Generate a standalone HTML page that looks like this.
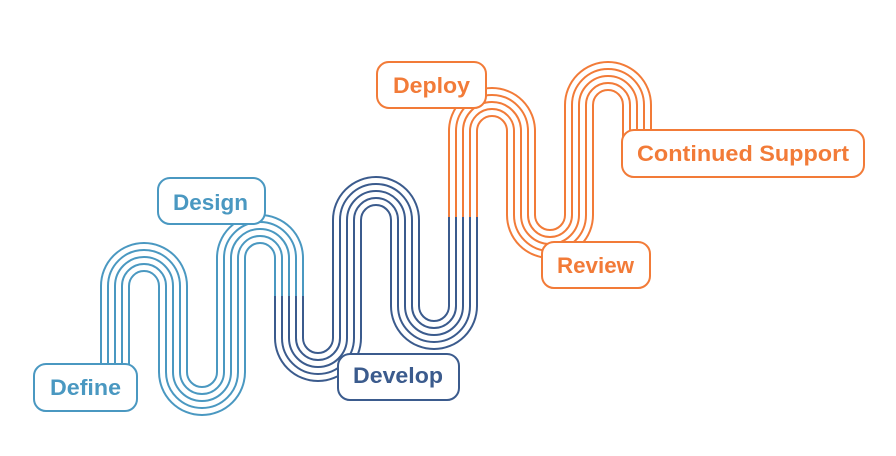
<!DOCTYPE html>
<html><head><meta charset="utf-8"><style>html,body{margin:0;padding:0;background:#fff}svg{display:block}</style></head>
<body>
<svg width="896" height="456" viewBox="0 0 896 456" xmlns="http://www.w3.org/2000/svg">
<defs>
<g id="lp"><path d="M115,365 V286 A29,29 0 0 1 173,286 V372 A29,29 0 0 0 231,372 V258 A29,29 0 0 1 289,258 V296"/></g>
<g id="dp"><path d="M289,296 V338 A29,29 0 0 0 347,338 V220 A29,29 0 0 1 405,220 V306 A29,29 0 0 0 463,306 V217"/></g>
<g id="op"><path d="M463,217 V131 A29,29 0 0 1 521,131 V215 A29,29 0 0 0 579,215 V105 A29,29 0 0 1 637,105 V150"/></g>
</defs>
<g fill="none" stroke-linecap="butt">
<g stroke="#4a98c1"><use href="#lp" stroke-width="30"/></g>
<g stroke="#fff"><use href="#lp" stroke-width="26"/></g>
<g stroke="#4a98c1"><use href="#lp" stroke-width="16"/></g>
<g stroke="#fff"><use href="#lp" stroke-width="12"/></g>
<g stroke="#4a98c1"><use href="#lp" stroke-width="2"/></g>

<g stroke="#3b5b8d"><use href="#dp" stroke-width="30"/></g>
<g stroke="#fff"><use href="#dp" stroke-width="26"/></g>
<g stroke="#3b5b8d"><use href="#dp" stroke-width="16"/></g>
<g stroke="#fff"><use href="#dp" stroke-width="12"/></g>
<g stroke="#3b5b8d"><use href="#dp" stroke-width="2"/></g>

<g stroke="#f27b38"><use href="#op" stroke-width="30"/></g>
<g stroke="#fff"><use href="#op" stroke-width="26"/></g>
<g stroke="#f27b38"><use href="#op" stroke-width="16"/></g>
<g stroke="#fff"><use href="#op" stroke-width="12"/></g>
<g stroke="#f27b38"><use href="#op" stroke-width="2"/></g>
</g>
<g fill="#fff" stroke-width="2">
<rect x="34" y="364" width="103" height="47" rx="12" stroke="#4a98c1"/>
<rect x="158" y="178" width="107" height="46" rx="12" stroke="#4a98c1"/>
<rect x="338" y="354" width="121" height="46" rx="12" stroke="#3b5b8d"/>
<rect x="377" y="62" width="109" height="46" rx="12" stroke="#f27b38"/>
<rect x="542" y="242" width="108" height="46" rx="12" stroke="#f27b38"/>
<rect x="622" y="130" width="242" height="47" rx="12" stroke="#f27b38"/>
</g>
<g font-family="Liberation Sans, sans-serif" font-weight="bold" font-size="22" lengthAdjust="spacingAndGlyphs">
<text x="50" y="395" textLength="71" lengthAdjust="spacingAndGlyphs" fill="#4a98c1">Define</text>
<text x="173" y="210" textLength="75" lengthAdjust="spacingAndGlyphs" fill="#4a98c1">Design</text>
<text x="353" y="383" textLength="90" lengthAdjust="spacingAndGlyphs" fill="#3b5b8d">Develop</text>
<text x="393" y="93" textLength="77" lengthAdjust="spacingAndGlyphs" fill="#f27b38">Deploy</text>
<text x="557" y="273" textLength="77" lengthAdjust="spacingAndGlyphs" fill="#f27b38">Review</text>
<text x="637" y="161" textLength="212" lengthAdjust="spacingAndGlyphs" fill="#f27b38">Continued Support</text>
</g>
</svg>
</body></html>
